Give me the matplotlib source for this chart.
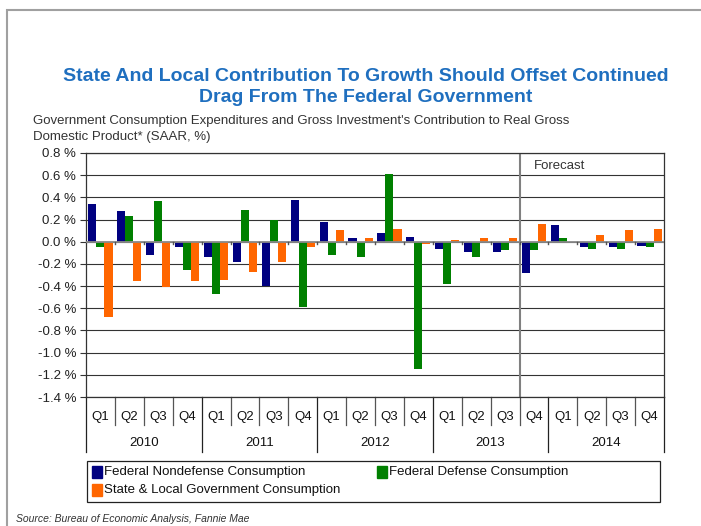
import numpy as np
import matplotlib
matplotlib.use("Agg")
import matplotlib.pyplot as plt
from matplotlib.patches import Rectangle

plt.rcParams['font.family'] = ['Liberation Sans', 'DejaVu Sans']

years = ['2010', '2011', '2012', '2013', '2014']
quarters = ['Q1', 'Q2', 'Q3', 'Q4'] * 5
nondefense = [0.34, 0.28, -0.12, -0.045, -0.135, -0.18, -0.40, 0.38, 0.18, 0.033,
              0.078, 0.042, -0.066, -0.093, -0.093, -0.28, 0.15, -0.045, -0.045, -0.04]
defense = [-0.045, 0.23, 0.37, -0.255, -0.47, 0.29, 0.20, -0.585, -0.12, -0.135,
           0.61, -1.145, -0.38, -0.135, -0.075, -0.075, 0.033, -0.066, -0.066, -0.045]
state_local = [-0.68, -0.35, -0.41, -0.35, -0.345, -0.27, -0.18, -0.045, 0.105, 0.033,
               0.114, -0.018, 0.015, 0.033, 0.033, 0.16, 0.0, 0.06, 0.105, 0.114]
names = ['Federal Nondefense Consumption', 'Federal Defense Consumption',
         'State & Local Government Consumption']
colors = ['#000080', '#008000', '#FF6600']

W, H = 701, 526
fig = plt.figure(figsize=(W / 100, H / 100), dpi=100)

# outer frame
fig.patches.append(Rectangle((7 / W, -0.1), 1.2, (H - 10) / H + 0.1, transform=fig.transFigure,
                             fill=False, edgecolor='#a0a0a0', lw=1.5))

x0, x1, ytop, ybot = 86, 664, 153, 397
ax = fig.add_axes([x0 / W, 1 - ybot / H, (x1 - x0) / W, (ybot - ytop) / H])

n = len(quarters)
x = np.arange(n)
bw = 0.28
for k, (vals, c) in enumerate(zip([nondefense, defense, state_local], colors)):
    ax.bar(x + (k - 1) * bw, vals, bw, color=c, zorder=3)

ax.set_xlim(-0.5, n - 0.5)
ax.set_ylim(-1.4, 0.8)
yt = np.round(np.arange(-1.4, 0.81, 0.2), 1) + 0.0
ax.set_yticks(yt)
ax.set_yticklabels(['%.1f %%' % (v if abs(v) > 1e-9 else 0.0) for v in yt],
                   fontsize=9.5, color='#222222')
ax.tick_params(axis='y', length=4, width=0.8, color='#333333', pad=3)
ax.set_xticks([])
for v in yt:
    ax.axhline(v, color='#333333', lw=0.8, zorder=1)
ax.axhline(0, color='#8a8a8a', lw=1.3, zorder=4)
for b in np.arange(0.5, n - 0.5, 1):
    ax.plot([b, b], [0, -0.025], color='#555555', lw=1, zorder=4)
for s in ax.spines.values():
    s.set_color('#333333')
    s.set_linewidth(0.9)

# forecast divider
ax.axvline(14.5, color='#808080', lw=1.5, zorder=2)
ax.text(15.0, 0.68, 'Forecast', fontsize=9.5, color='#333333', ha='left', va='center')

# category table below axis
tr = ax.get_xaxis_transform()
ph = ybot - ytop
for i, q in enumerate(quarters):
    ax.text(i, -20 / ph, q, transform=tr, ha='center', va='center', fontsize=9.5, color='#111111')
for j, yr in enumerate(years):
    ax.text(j * 4 + 1.5, -46 / ph, yr, transform=tr, ha='center', va='center', fontsize=9.5,
            color='#111111')
for b in np.arange(-0.5, n, 1):
    if (b + 0.5) % 4 == 0:
        ax.plot([b, b], [0, -55 / ph], transform=tr, color='#222222', lw=0.9, clip_on=False)
    else:
        ax.plot([b, b], [0, -28 / ph], transform=tr, color='#555555', lw=0.9, clip_on=False)

# legend box
lx0, lx1, ly0, ly1 = 87, 660, 461, 502
fig.patches.append(Rectangle((lx0 / W, 1 - ly1 / H), (lx1 - lx0) / W, (ly1 - ly0) / H,
                             transform=fig.transFigure, fill=False, edgecolor='#222222', lw=0.9))
leg_pos = [(92, 472), (377, 472), (92, 490)]
for (px, py), c, nm in zip(leg_pos, colors, names):
    fig.patches.append(Rectangle((px / W, 1 - (py + 6) / H), 10 / W, 12 / H,
                                 transform=fig.transFigure, color=c))
    fig.text((px + 12) / W, 1 - py / H, nm, fontsize=9.5, color='#111111', va='center', ha='left')

fig.text(366 / W, 1 - 87 / H,
         'State And Local Contribution To Growth Should Offset Continued\nDrag From The Federal Government',
         ha='center', va='center', fontsize=14, fontweight='bold', color='#1F6FBF', linespacing=1.25)
fig.text(33 / W, 1 - 129 / H,
         "Government Consumption Expenditures and Gross Investment's Contribution to Real Gross\n"
         "Domestic Product* (SAAR, %)",
         ha='left', va='center', fontsize=9.5, color='#333333', linespacing=1.4)
fig.text(16 / W, 1 - 519 / H, 'Source: Bureau of Economic Analysis, Fannie Mae',
         ha='left', va='center', fontsize=7.5, style='italic', color='#333333')

fig.savefig('out.png', dpi=100)
